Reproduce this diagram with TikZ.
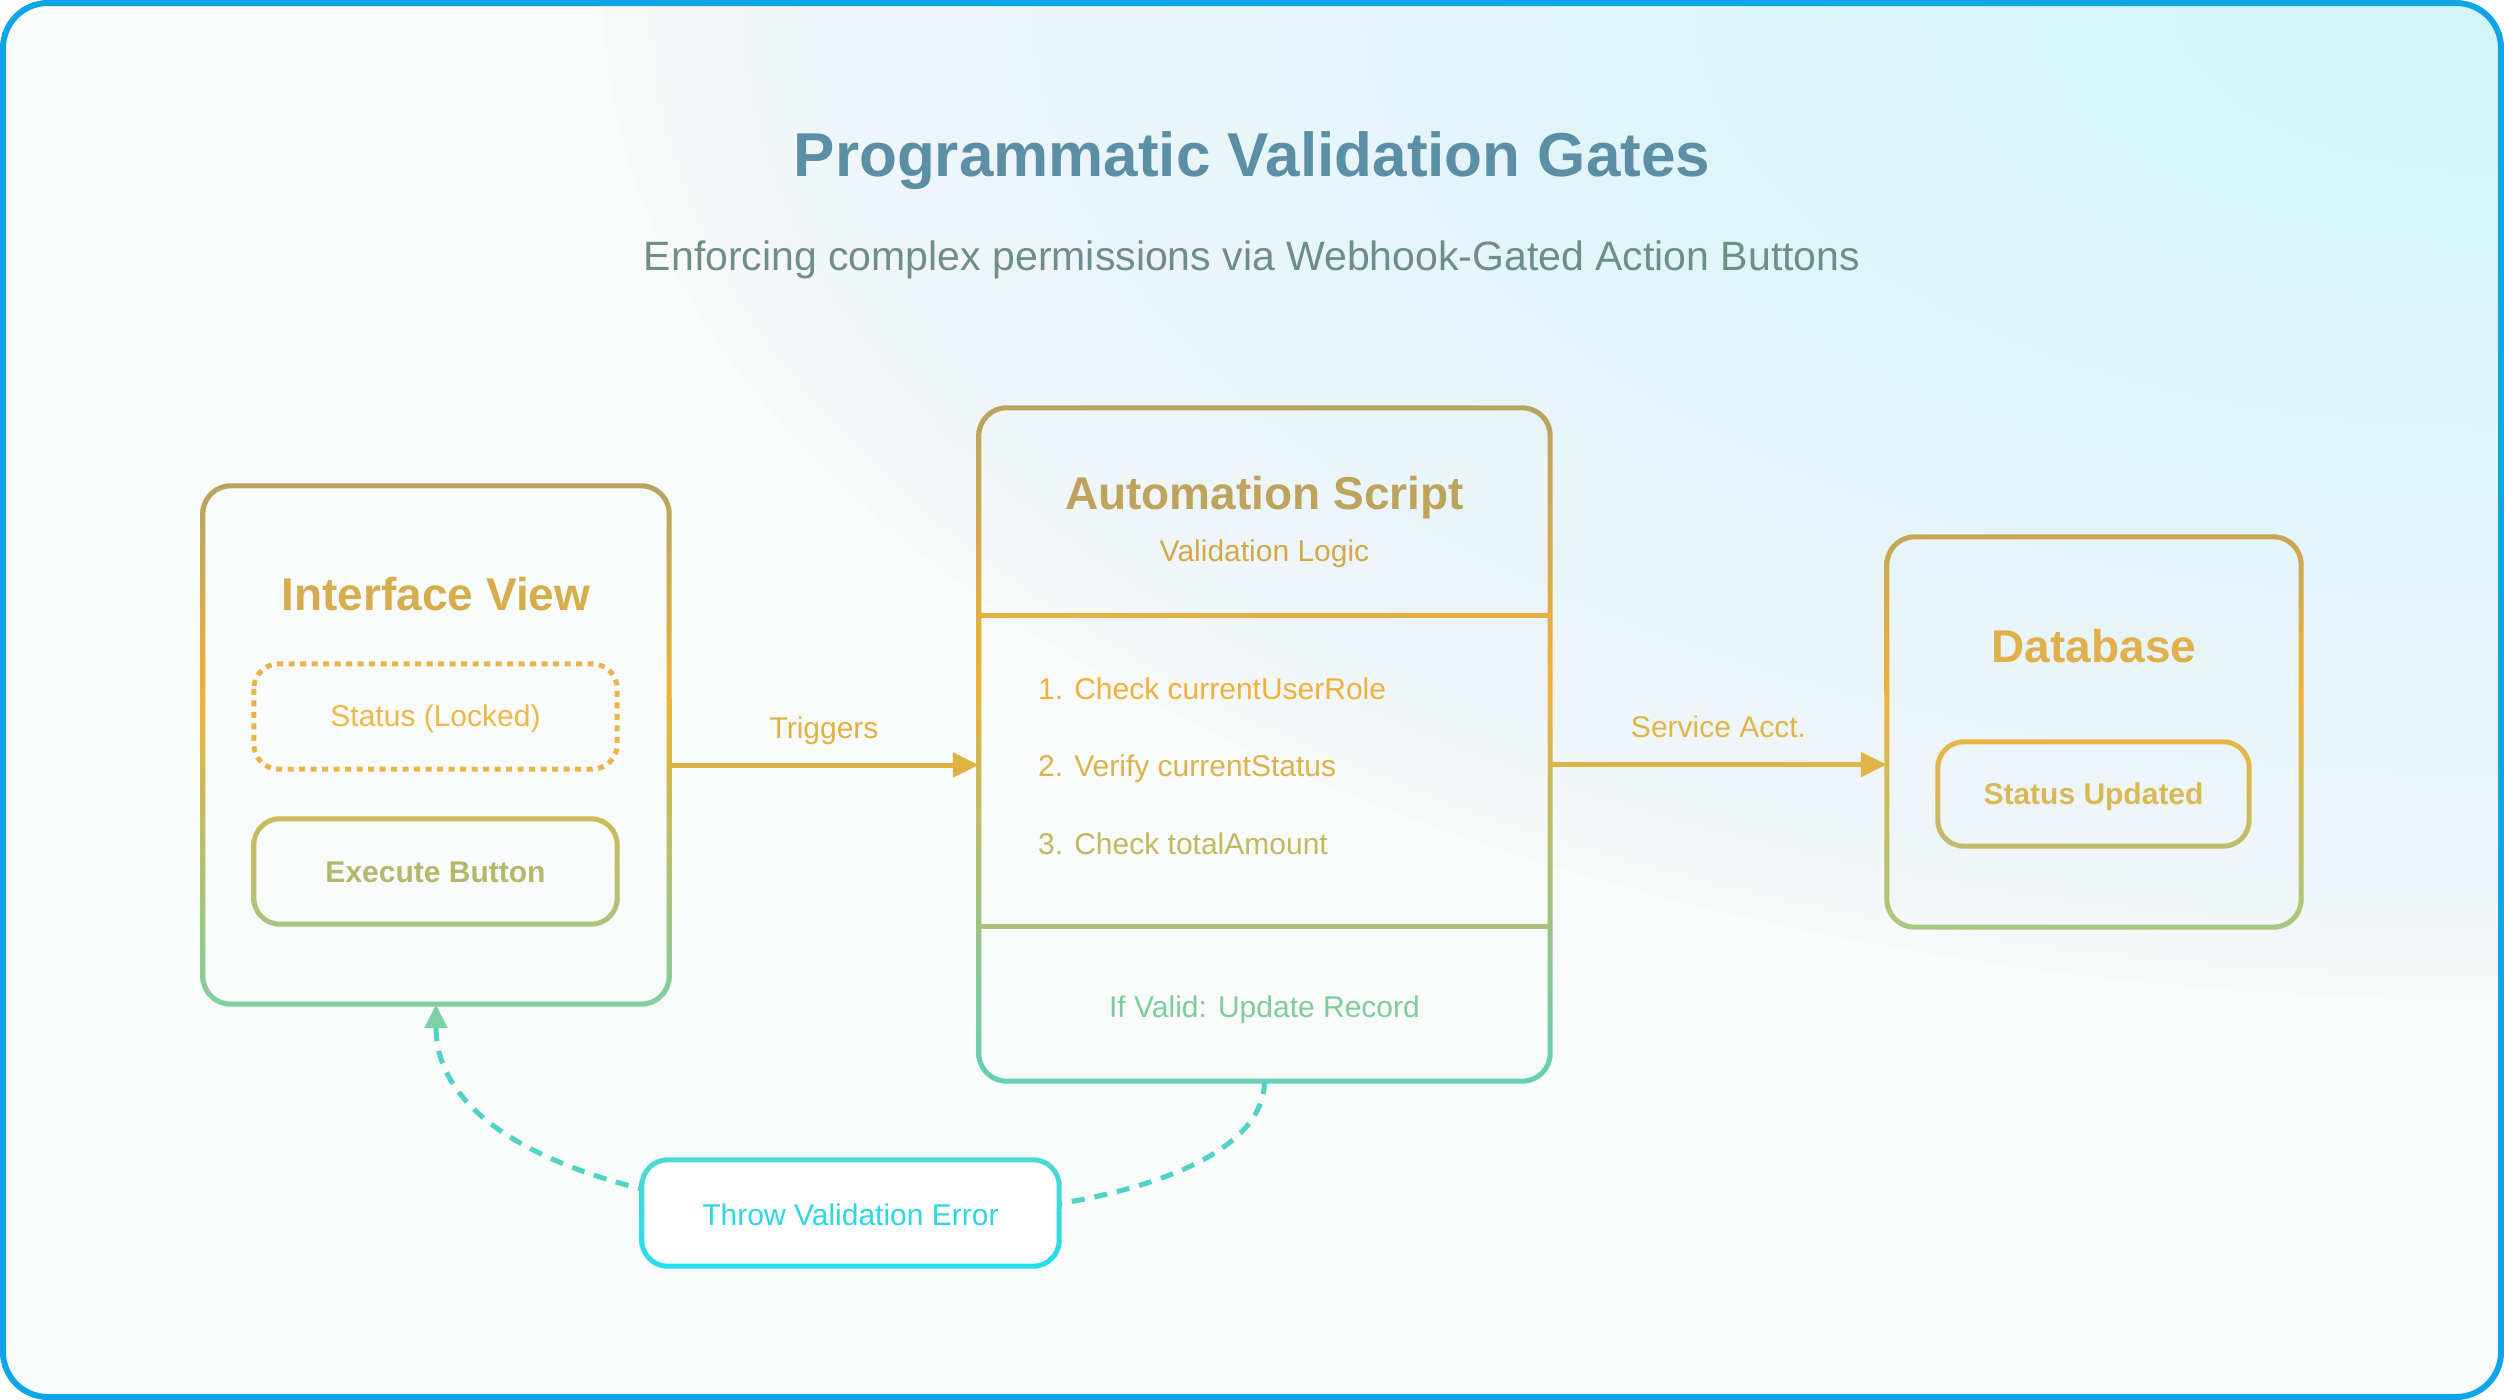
\documentclass[tikz,border=0pt]{standalone}
\usepackage{fontspec}
\setmainfont{Liberation Sans}
\usetikzlibrary{arrows.meta,calc,shadings}

\definecolor{bgBase}{HTML}{F9FAFA}
\definecolor{glowC}{HTML}{D3F5F9}
\definecolor{frameblue}{HTML}{0EA5E9}
\definecolor{titleC}{HTML}{5A8FA5}
\definecolor{subC}{HTML}{6E8E88}
\definecolor{gTop}{HTML}{B8A362}
\definecolor{gMid}{HTML}{F0B236}
\definecolor{gBotG}{HTML}{7FCFA0}
\definecolor{gBotT}{HTML}{62D0B8}
\definecolor{gBotD}{HTML}{A6C882}
\definecolor{dbTop}{HTML}{C7A656}
\definecolor{exTop}{HTML}{CDBB5C}
\definecolor{exMid}{HTML}{C0BD6A}
\definecolor{exBot}{HTML}{A8C67F}
\definecolor{suTop}{HTML}{E6B545}
\definecolor{suMid}{HTML}{D8B856}
\definecolor{suBot}{HTML}{BCBD6E}
\definecolor{erTop}{HTML}{4DD8D2}
\definecolor{erMid}{HTML}{3ADAE0}
\definecolor{erBot}{HTML}{22DDF0}
\definecolor{dotC}{HTML}{E8B54A}
\definecolor{ivText}{HTML}{D6AD4C}
\definecolor{stText}{HTML}{EBB84A}
\definecolor{exText}{HTML}{B3B86A}
\definecolor{asText}{HTML}{BDA35C}
\definecolor{vlText}{HTML}{D3A94A}
\definecolor{itA}{HTML}{EFB03C}
\definecolor{itB}{HTML}{DBB34B}
\definecolor{itC}{HTML}{C2B862}
\definecolor{okText}{HTML}{7ECB9E}
\definecolor{dbText}{HTML}{E2B04A}
\definecolor{suText}{HTML}{D9B855}
\definecolor{trigC}{HTML}{E0B244}
\definecolor{servC}{HTML}{E0B548}
\definecolor{erText}{HTML}{2ED5E2}
\definecolor{divA}{HTML}{E6B040}
\definecolor{divB}{HTML}{A9C07F}
\definecolor{curveC}{HTML}{4FD3C6}
\definecolor{tipC}{HTML}{7DD0A2}

% gradient ring around a node: #1 node, #2 radius, #3 top, #4 peak, #5 bottom, #6 peak fraction
\newcommand\gring[6]{%
  \pgfmathsetmacro\rOut{#2+2.5}\pgfmathsetmacro\rIn{#2-2.5}%
  \begin{scope}[even odd rule, rounded corners=\rOut pt]
    \clip
      ([shift={(-2.5pt,2.5pt)}]#1.north west) rectangle ([shift={(2.5pt,-2.5pt)}]#1.south east)
      [rounded corners=\rIn pt]
      ([shift={(2.5pt,-2.5pt)}]#1.north west) rectangle ([shift={(-2.5pt,2.5pt)}]#1.south east);
    \coordinate (gA) at ([shift={(-4pt,4pt)}]#1.north west);
    \coordinate (gB) at ([shift={(4pt,-4pt)}]#1.south east);
    \coordinate (gP) at ($(gA)!#6!(gB)$);
    \shade[sharp corners, top color=#3, bottom color=#4] (gA) rectangle (gB |- gP);
    \shade[sharp corners, top color=#4, bottom color=#5] (gA |- gP) rectangle (gB);
  \end{scope}}

\begin{document}
\begin{tikzpicture}[x=1pt,y=-1pt,
  box/.style={draw=none, inner sep=0pt, rectangle},
  lbl/.style={inner sep=0pt, anchor=base, font=\fontsize{30}{36}\selectfont},
  boxtitle/.style={inner sep=0pt, anchor=base, font=\fontsize{46}{54}\selectfont\bfseries},
  flow/.style={line width=5pt, color=#1, -{Triangle[length=26pt,width=24pt]}},
]
\useasboundingbox (0,0) rectangle (2504,1400);

% background and frame
\begin{scope}
  \clip[rounded corners=45pt] (3,3) rectangle (2501,1397);
  \fill[bgBase] (0,0) rectangle (2504,1400);
  \foreach \k in {1,...,40}{
    \fill[glowC, fill opacity=0.03] (2504,0) ellipse [x radius={47.5*\k}, y radius={25*\k}];
  }
\end{scope}
\draw[line width=6pt, color=frameblue, rounded corners=45pt] (3,3) rectangle (2501,1397);

% titles
\node[inner sep=0pt, anchor=base, text=titleC, font=\fontsize{62}{70}\selectfont\bfseries] (title) at (1252,176) {Programmatic Validation Gates};
\node[inner sep=0pt, anchor=base, text=subC, font=\fontsize{41}{48}\selectfont] (subtitle) at (1252,270) {Enforcing complex permissions via Webhook-Gated Action Buttons};

% box placeholders
\node[box, minimum width=466pt, minimum height=518pt] (iv) at (436,745) {};
\node[box, minimum width=363pt, minimum height=105pt] (st) at (435.5,716.5) {};
\node[box, minimum width=363pt, minimum height=105pt] (ex) at (435.5,871.5) {};
\node[box, minimum width=571pt, minimum height=673pt] (script) at (1264.5,744.5) {};
\node[box, minimum width=414pt, minimum height=390pt] (db) at (2094,732) {};
\node[box, minimum width=311pt, minimum height=104pt] (su) at (2093.5,794) {};
\node[box, minimum width=417pt, minimum height=106pt] (err) at (850.5,1213) {};

% dashed feedback curve (behind the error box)
\draw[line width=5pt, color=curveC, dash pattern=on 13pt off 10pt,
      -{Triangle[length=24pt,width=22pt,color=tipC,fill=tipC]}]
  (script.south) .. controls ([yshift=-189pt]script.south) and ([yshift=-266pt]iv.south) .. (iv.south);

% box outlines
\gring{iv}{28}{gTop}{gMid}{gBotG}{0.41}
\gring{script}{28}{gTop}{gMid}{gBotT}{0.40}
\gring{db}{28}{dbTop}{gMid}{gBotD}{0.40}
\gring{ex}{26}{exTop}{exMid}{exBot}{0.5}
\gring{su}{26}{suTop}{suMid}{suBot}{0.5}
\fill[white, rounded corners=26pt] (err.north west) rectangle (err.south east);
\gring{err}{26}{erTop}{erMid}{erBot}{0.5}
\draw[line width=5pt, color=dotC, dash pattern=on 6pt off 5.5pt, rounded corners=25pt] (st.north west) rectangle (st.south east);

% dividers in script box
\draw[line width=5pt, color=divA] ([yshift=-208pt]script.north west) -- ([yshift=-208pt]script.north east);
\draw[line width=5pt, color=divB] ([yshift=155pt]script.south west) -- ([yshift=155pt]script.south east);

% texts
\node[boxtitle, text=ivText] (ivt) at (436,610) {Interface View};
\node[lbl, text=stText] (stt) at (435.5,726) {Status (Locked)};
\node[lbl, text=exText, font=\fontsize{30}{36}\selectfont\bfseries] (ext) at (435.5,882) {Execute Button};
\node[boxtitle, text=asText] (ast) at (1264.5,509) {Automation Script};
\node[lbl, text=vlText] (vlt) at (1264.5,561) {Validation Logic};
\node[lbl, anchor=base west, text=itA] (i1) at (1038,699) {1. Check currentUserRole};
\node[lbl, anchor=base west, text=itB] (i2) at (1038,776) {2. Verify currentStatus};
\node[lbl, anchor=base west, text=itC] (i3) at (1038,854) {3. Check totalAmount};
\node[lbl, text=okText] (okt) at (1264.5,1017) {If Valid: Update Record};
\node[boxtitle, text=dbText] (dbt) at (2094,662) {Database};
\node[lbl, text=suText, font=\fontsize{30}{36}\selectfont\bfseries] (sut) at (2093.5,804) {Status Updated};
\node[lbl, text=erText] (ert) at (850.5,1225) {Throw Validation Error};

% arrows
\coordinate (ta) at ([yshift=-20pt]iv.east);
\coordinate (sa) at ([yshift=-20pt]script.east);
\draw[flow=trigC] (ta) -- (ta -| script.west)
  node[lbl, midway, yshift=27pt, text=trigC] (trl) {Triggers};
\draw[flow=servC] (sa) -- (sa -| db.west)
  node[lbl, midway, yshift=27pt, text=servC] (sal) {Service Acct.};
\end{tikzpicture}
\end{document}
